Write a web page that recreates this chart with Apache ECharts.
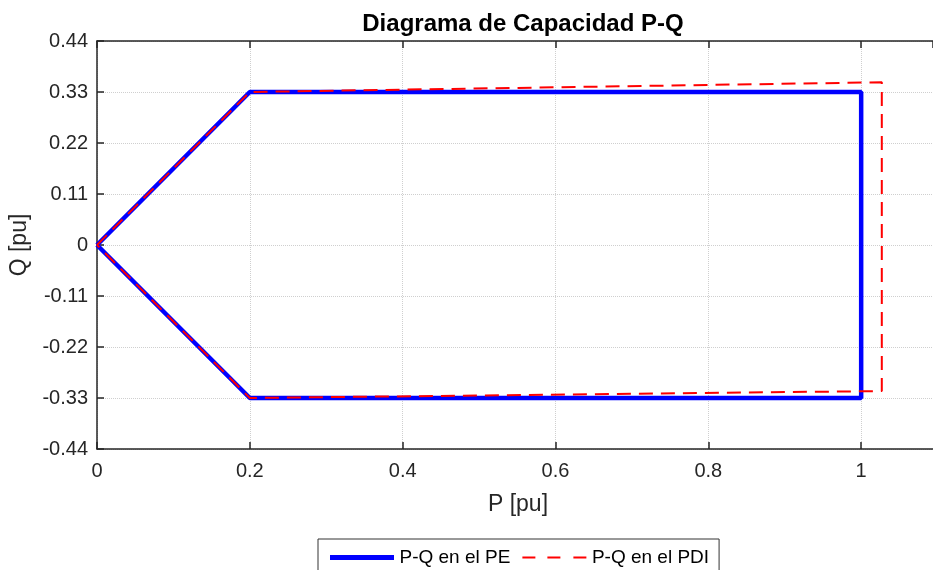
<!DOCTYPE html>
<html>
<head>
<meta charset="utf-8">
<script src="https://cdn.jsdelivr.net/npm/echarts@6/dist/echarts.min.js"></script>
<style>
  html, body { margin: 0; padding: 0; background: #fff; }
  #chart { width: 933px; height: 570px; }
</style>
</head>
<body>
<div id="chart"></div>
<script>
  // contorno P-Q en el punto de entrega (PE)
  const peP = [0, 0.2, 1, 1, 0.2, 0]
  const peQ = [0, 0.33, 0.33, -0.33, -0.33, 0]
  // contorno P-Q en el punto de interconexion (PDI)
  const pdiP = [0, 0.2, 1.027, 1.027, 0.2, 0]
  const pdiQ = [0, 0.33, 0.351, -0.315, -0.33, 0]

  const xTicks = [0, 0.2, 0.4, 0.6, 0.8, 1]
  const yTicks = [-0.44, -0.33, -0.22, -0.11, 0, 0.11, 0.22, 0.33, 0.44]

  const font = 'Liberation Sans, Arial, sans-serif'
  const axisColor = '#262626'

  const pairs = (xs, ys) => xs.map((x, i) => [x, ys[i]])
  const fmt = v => {
    const r = Math.round(v * 100) / 100
    return r === 0 ? '0' : String(r)
  }
  const isTick = (list, v) => list.some(t => Math.abs(t - v) < 1e-6)

  // iconos de leyenda: linea continua y linea discontinua
  const solidIcon = 'path://M0,0H64V5H0Z'
  const dashIcon = 'path://M0,0H0.1V0.1H0Z M0,4.9H0.1V5H0Z M0,1.5H13V3.5H0Z M25,1.5H38V3.5H25Z M51,1.5H64V3.5H51Z'

  const chart = echarts.init(document.getElementById('chart'))

  const lineCfg = { onZero: false, lineStyle: { color: axisColor, width: 1.5 } }
  const tickCfg = { show: true, inside: true, length: 7, lineStyle: { color: axisColor, width: 1.5 } }
  const gridLine = { show: true, lineStyle: { color: '#cfcfcf', type: [1, 1], width: 1 } }

  chart.setOption({
    animation: false,
    backgroundColor: '#fff',
    title: {
      text: 'Diagrama de Capacidad P-Q',
      left: 518,
      textAlign: 'center',
      top: 7,
      textStyle: { fontFamily: font, fontSize: 24, fontWeight: 'bold', color: '#000' }
    },
    grid: { left: 97, top: 41, right: 0, bottom: 121, containLabel: false },
    legend: {
      bottom: -21,
      left: 318,
      padding: [9, 10, 24, 12],
      borderColor: '#333',
      borderWidth: 1,
      itemWidth: 65,
      itemHeight: 5,
      itemGap: 12,
      textStyle: { fontFamily: font, fontSize: 19, color: '#000' },
      data: [
        { name: 'P-Q en el PE', icon: solidIcon },
        { name: 'P-Q en el PDI', icon: dashIcon }
      ]
    },
    xAxis: [
      {
        type: 'value',
        min: 0,
        max: 1.094,
        interval: 0.2,
        name: 'P [pu]',
        nameLocation: 'middle',
        nameGap: 44,
        nameTextStyle: { fontFamily: font, fontSize: 23, color: axisColor, padding: [0, 0, 0, 6] },
        axisLine: lineCfg,
        axisTick: tickCfg,
        axisLabel: {
          fontFamily: font, fontSize: 20, color: axisColor, margin: 12,
          showMaxLabel: false,
          formatter: v => isTick(xTicks, v) ? fmt(v) : ''
        },
        splitLine: gridLine
      },
      {
        type: 'value', position: 'top', min: 0, max: 1.094, interval: 0.2,
        axisLine: lineCfg, axisTick: tickCfg, axisLabel: { show: false }, splitLine: { show: false }
      }
    ],
    yAxis: {
      type: 'value',
      min: -0.44,
      max: 0.44,
      interval: 0.11,
      name: 'Q [pu]',
      nameLocation: 'middle',
      nameGap: 64,
      nameTextStyle: { fontFamily: font, fontSize: 23, color: axisColor },
      axisLine: lineCfg,
      axisTick: tickCfg,
      axisLabel: {
        fontFamily: font, fontSize: 20, color: axisColor, margin: 9,
        formatter: v => isTick(yTicks, v) ? fmt(v) : ''
      },
      splitLine: gridLine
    },
    series: [
      {
        name: 'P-Q en el PE',
        type: 'line',
        data: pairs(peP, peQ),
        symbol: 'none',
        lineStyle: { color: '#0000ff', width: 4.5 },
        itemStyle: { color: '#0000ff' },
        z: 2
      },
      {
        name: 'P-Q en el PDI',
        type: 'line',
        data: pairs(pdiP, pdiQ),
        symbol: 'none',
        lineStyle: { color: '#ff0000', width: 2, type: [14, 8] },
        itemStyle: { color: '#ff0000' },
        z: 3
      }
    ]
  })
</script>
</body>
</html>
